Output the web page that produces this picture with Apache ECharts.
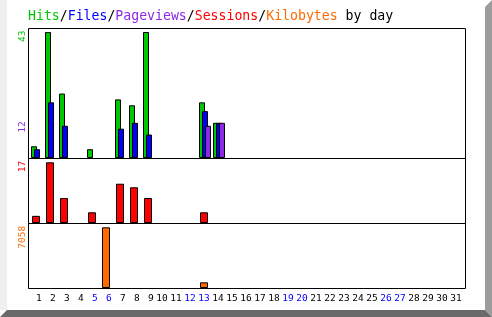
<!DOCTYPE html>
<html><head><meta charset="utf-8">
<script src="https://cdn.jsdelivr.net/npm/echarts@6/dist/echarts.min.js"></script>
<style>html,body{margin:0;padding:0;background:#fff}#c{width:492px;height:317px}</style>
</head><body><div id="c"></div>
<script>
const dayLabels = ['1','2','3','4','5','6','7','8','9','10','11','12','13','14','15','16','17','18','19','20','21','22','23','24','25','26','27','28','29','30','31'];
const weekendDays = ['5','6','12','13','19','20','26','27'];
const hits      = [4,43,22,0,3,0,20,18,43,0,0,0,19,12,0,0,0,0,0,0,0,0,0,0,0,0,0,0,0,0,0];
const files     = [3,19,11,0,0,0,10,12,8,0,0,0,16,12,0,0,0,0,0,0,0,0,0,0,0,0,0,0,0,0,0];
const pageviews = [0,0,0,0,0,0,0,0,0,0,0,0,11,12,0,0,0,0,0,0,0,0,0,0,0,0,0,0,0,0,0];
const sessions  = [2,17,7,0,3,0,11,10,7,0,0,0,3,0,0,0,0,0,0,0,0,0,0,0,0,0,0,0,0,0,0];
const kbytes    = [0,0,0,0,0,7058,0,0,0,0,0,0,660,0,0,0,0,0,0,0,0,0,0,0,0,0,0,0,0,0,0];

const C = {hits:'#00c800', files:'#0000ff', pv:'#8c28e6', sess:'#ff0000', kb:'#ff6a00'};
const FONT = '"DejaVu Sans Mono", monospace';
const nz = a => a.map(v => (v === 0 ? null : v));

const chart = echarts.init(document.getElementById('c'), null, {renderer:'canvas'});
const xBase = (gi, showLabels) => ({
  type:'category', gridIndex: gi, data: dayLabels,
  axisLine:{show:false}, axisTick:{show:false}, splitLine:{show:false},
  axisLabel: showLabels ? {
    show:true, interval:0, margin:6, fontFamily:FONT, fontSize:9.5,
    formatter: v => (v.length < 2 ? ' ' + v : v),
    color: (v) => weekendDays.includes(String(v).trim()) ? '#0000ff' : '#000'
  } : {show:false}
});
const yBase = (gi, factor) => ({
  type:'value', gridIndex: gi, min:0, max: v => v.max * factor, show:false,
  splitLine:{show:false}
});
const barStyle = (col) => ({color: col, borderColor:'#000', borderWidth:1});

const frames = [
  {x:28.5, y:28.5, w:437, h:130},
  {x:28.5, y:158.5, w:437, h:65},
  {x:28.5, y:223.5, w:437, h:65}
].map((f,i) => ({type:'rect', id:'frame'+i, z:100, silent:true,
  shape:{x:f.x, y:f.y, width:f.w, height:f.h},
  style:{fill:null, stroke:'#000', lineWidth:1}}));

const option = {
  animation:false,
  backgroundColor:'#fff',
  title:{
    left:28, top:10, padding:0,
    text:'{g|Hits}{k|/}{b|Files}{k|/}{p|Pageviews}{k|/}{r|Sessions}{k|/}{o|Kilobytes}{k| by day}',
    textStyle:{
      fontFamily:FONT, fontSize:13.2, fontWeight:'normal',
      rich:{
        g:{color:C.hits, fontFamily:FONT, fontSize:13.2},
        b:{color:C.files, fontFamily:FONT, fontSize:13.2},
        p:{color:C.pv, fontFamily:FONT, fontSize:13.2},
        r:{color:C.sess, fontFamily:FONT, fontSize:13.2},
        o:{color:C.kb, fontFamily:FONT, fontSize:13.2},
        k:{color:'#000', fontFamily:FONT, fontSize:13.2}
      }
    }
  },
  grid:[
    {left:30, width:434, top:28, height:130},
    {left:29, width:434, top:158, height:65},
    {left:29, width:434, top:223, height:65}
  ],
  xAxis:[xBase(0,false), xBase(1,false), xBase(2,true)],
  yAxis:[yBase(0,130/126), yBase(1,65/60.7), yBase(2,65/60.7)],
  series:[
    {name:'Hits', type:'bar', xAxisIndex:0, yAxisIndex:0, data:nz(hits), barWidth:6, barGap:'-50%', itemStyle:barStyle(C.hits)},
    {name:'Files', type:'bar', xAxisIndex:0, yAxisIndex:0, data:nz(files), barWidth:6, barGap:'-50%', itemStyle:barStyle(C.files)},
    {name:'Pageviews', type:'bar', xAxisIndex:0, yAxisIndex:0, data:nz(pageviews), barWidth:6, barGap:'-50%', itemStyle:barStyle(C.pv)},
    {name:'Sessions', type:'bar', xAxisIndex:1, yAxisIndex:1, data:nz(sessions), barWidth:8, itemStyle:barStyle(C.sess)},
    {name:'Kilobytes', type:'bar', xAxisIndex:2, yAxisIndex:2, data:nz(kbytes), barWidth:8, itemStyle:barStyle(C.kb)}
  ],
  graphic:[
    {type:'rect', id:'bgL', z:0, silent:true, shape:{x:0, y:0, width:7, height:310}, style:{fill:'#efefef'}},
    {type:'polygon', id:'bgR', z:0, silent:true, shape:{points:[[485,7],[492,0],[492,317],[485,310]]}, style:{fill:'#9c9c9c'}},
    {type:'polygon', id:'bgB', z:0, silent:true, shape:{points:[[0,317],[7,310],[485,310],[492,317]]}, style:{fill:'#6a6a6a'}}
  ].concat(frames)
};
chart.setOption(option);

// rotated max-value labels placed through the axes' own scales
const maxOf = a => Math.max.apply(null, a);
const labs = [
  {v:maxOf(hits), axis:0, col:C.hits},
  {v:maxOf(pageviews), axis:0, col:C.pv},
  {v:maxOf(sessions), axis:1, col:C.sess},
  {v:maxOf(kbytes), axis:2, col:C.kb}
];
const extra = labs.map((l,i) => {
  const y = chart.convertToPixel({yAxisIndex:l.axis}, l.v);
  return {type:'text', id:'ylab'+i, z:100, silent:true, x:23, y:y-1.5, rotation:Math.PI/2,
    style:{text:String(l.v), fill:l.col, font:'9.5px ' + FONT, align:'right', verticalAlign:'middle'}};
});
chart.setOption({graphic: extra});
</script></body></html>
